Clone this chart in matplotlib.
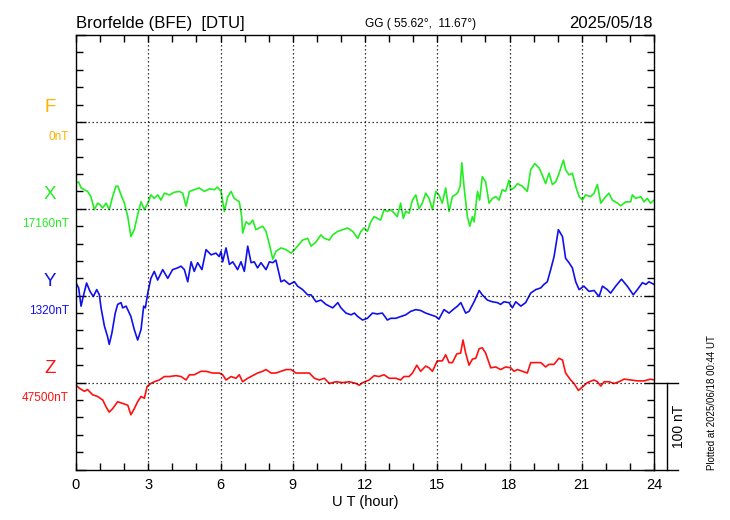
import numpy as np
import matplotlib.pyplot as plt

plt.rcParams['font.family'] = ['Liberation Sans', 'DejaVu Sans']

# components, baseline labels and colours (top to bottom)
components = ['F', 'X', 'Y', 'Z']
baselines = ['0nT', '17160nT', '1320nT', '47500nT']
colors = ['#FFB000', '#22EE22', '#1010EE', '#FF1010']
slots = [400, 300, 200, 100]

# deviation from baseline, nT
x_hours = [0.00, 0.11, 0.21, 0.35, 0.48, 0.62, 0.76, 0.90, 1.00, 1.11, 1.25, 1.38, 1.52, 1.66, 1.74,
           1.87, 2.01, 2.15, 2.28, 2.42, 2.56, 2.70, 2.84, 2.98, 3.11, 3.25, 3.39, 3.53, 3.67, 3.88,
           4.08, 4.29, 4.43, 4.57, 4.71, 4.91, 5.12, 5.33, 5.54, 5.74, 5.88, 6.02, 6.16, 6.30, 6.44,
           6.57, 6.78, 6.88, 6.92, 7.06, 7.20, 7.34, 7.47, 7.61, 7.75, 7.89, 8.03, 8.17, 8.30, 8.51,
           8.72, 8.93, 9.07, 9.20, 9.41, 9.62, 9.76, 9.97, 10.17, 10.31, 10.52, 10.66, 10.87, 11.07,
           11.28, 11.49, 11.70, 11.83, 11.96,
           12.10, 12.24, 12.38, 12.51, 12.65, 12.79, 12.93, 13.07, 13.21, 13.34, 13.48, 13.59, 13.69,
           13.83, 13.97, 14.11, 14.24, 14.38, 14.52, 14.66, 14.80, 14.94, 15.07, 15.21, 15.35, 15.49,
           15.63, 15.84, 15.95, 16.02, 16.11, 16.25, 16.35, 16.46, 16.53, 16.67, 16.76, 16.87, 17.01,
           17.15, 17.29, 17.43, 17.57, 17.70, 17.84, 17.98, 18.05, 18.19, 18.33, 18.53, 18.74, 18.88,
           19.05, 19.23, 19.36, 19.50, 19.64, 19.78, 19.92, 20.06, 20.24, 20.33, 20.47, 20.61, 20.75,
           20.89, 21.03, 21.16, 21.37, 21.51, 21.65, 21.79, 21.99, 22.13, 22.27, 22.48, 22.62, 22.83,
           23.03, 23.10, 23.24, 23.45, 23.59, 23.72, 23.86, 24.00]
x_dev = [29.5, 31, 24, 22, 20, 14, -1, 6.5, 4.6, 1, 6.5, -1, 14, 26, 26,
         16, 6.5, -9, -32, -24, -7, 8, -1, 6.5, 16, 12, 16, 10, 18, 16,
         19, 20, 18, 3, 20, 22, 24, 20, 23, 22, 25, 20, -3, 14, 20,
         12, 8, -9, -28, -15, -18, -13, -24, -22, -20, -26, -41, -58, -49, -45,
         -47, -51, -47, -43, -36, -34, -43, -38, -30, -34, -36, -30, -26, -24,
         -22, -26, -34, -26, -22,
         -26, -15, -9, -11, -13, -1, -3, -1, -5, -9, 6.5, -11, -3,
         -5, 10, 16, 0, 6.5, 18, 12, -1, 20, 16, 6.5, 24, -3,
         14, 18, 26, 53, 26, -9, -20, -9, -15, 20, 10, 37, 31,
         6.5, 12, 14, 10, 22, 20, 33, 22, 24, 29, 26, 20, 45,
         52, 47, 39, 29, 41, 28, 31, 41, 56, 45, 39, 41, 26,
         14, 10, 16, 14, 18, 28, 6.5, 14, 18, 10, 6.5, 3.5, 8,
         8, 16, 12, 14, 8, 12, 6.5, 10]

y_hours = [0.00, 0.11, 0.21, 0.30, 0.44, 0.58, 0.72, 0.86, 0.97, 1.04, 1.18, 1.31, 1.38, 1.49, 1.63,
           1.73, 1.87, 1.94, 2.08, 2.28, 2.42, 2.56, 2.70, 2.81, 2.88, 2.98, 3.11, 3.25, 3.39, 3.60,
           3.81, 4.01, 4.22, 4.36, 4.50, 4.64, 4.78, 4.91, 5.05, 5.23, 5.40, 5.61, 5.81, 5.95, 6.02,
           6.09, 6.23, 6.37, 6.51, 6.71, 6.85, 6.99, 7.13, 7.27, 7.40, 7.54, 7.68, 7.89, 8.03, 8.17,
           8.30, 8.51, 8.65, 8.86, 9.07, 9.20, 9.41, 9.62, 9.76, 9.97, 10.17, 10.38, 10.66, 10.87,
           11.00, 11.21, 11.42, 11.56, 11.70, 11.90,
           12.10, 12.31, 12.51, 12.72, 12.93, 13.07, 13.28, 13.48, 13.69, 13.90, 14.11, 14.31, 14.52,
           14.73, 14.94, 15.07, 15.28, 15.49, 15.70, 15.84, 15.98, 16.18, 16.32, 16.53, 16.74, 16.87,
           17.08, 17.29, 17.50, 17.63, 17.77, 17.98, 18.12, 18.26, 18.47, 18.67, 18.88, 19.09, 19.30,
           19.43, 19.57, 19.71, 19.85, 20.03, 20.20, 20.33, 20.47, 20.61, 20.75, 20.89, 21.09, 21.30,
           21.51, 21.72, 21.86, 22.06, 22.20, 22.41, 22.65, 22.89, 23.14, 23.31, 23.52, 23.66, 23.79,
           24.00]
y_dev = [14.6, 9, -12, -1, 14.6, 5, -1, 7, 1, -14, -35, -47, -56, -43, -20,
         -10, -8, -14, -12, -24, -39, -51, -39, -12, -14, 3, 20, 28, 18, 30,
         20, 30, 32, 34, 30, 16, 39, 28, 38, 30, 53, 47, 49, 45, 51,
         39, 55, 36, 39, 30, 39, 28, 57, 38, 39, 32, 38, 30, 39, 38,
         41, 16, 18, 13, 16, 11, 7, 1, 1, -7, -5, -10, -14, -8,
         -14, -20, -22, -20, -24, -28,
         -26, -20, -21, -20, -28, -26, -26, -24, -22, -18, -16, -17, -20,
         -22, -24, -27, -16, -20, -15, -12, -8, -20, -18, -7, 6, 1,
         -5, -7, -8, -10, -7, -8, -14, -7, -12, -8, 3, 7, 9,
         13, 16, 30, 45, 76, 68, 43, 38, 32, 16, 7, 11, 5,
         6, -1, 11, 7, 3, 11, 19, 11, 1, 7, 15, 13, 16,
         13]

z_hours = [0.00, 0.14, 0.35, 0.48, 0.69, 0.90, 1.11, 1.25, 1.38, 1.52, 1.73, 1.94, 2.15, 2.28, 2.42,
           2.56, 2.70, 2.84, 2.95, 3.11, 3.25, 3.46, 3.67, 3.88, 4.15, 4.36, 4.57, 4.71, 4.91, 5.19,
           5.40, 5.67, 5.95, 6.09, 6.23, 6.44, 6.64, 6.78, 6.92, 7.13, 7.34, 7.54, 7.75, 7.89, 8.10,
           8.30, 8.51, 8.72, 8.93, 9.13, 9.41, 9.69, 9.90, 10.10, 10.31, 10.52, 10.80, 11.07, 11.35,
           11.63, 11.76, 11.90,
           12.17, 12.38, 12.58, 12.79, 13.00, 13.28, 13.48, 13.62, 13.83, 13.97, 14.15, 14.31, 14.52,
           14.66, 14.80, 15.00, 15.21, 15.35, 15.49, 15.63, 15.81, 15.97, 16.07, 16.18, 16.32, 16.46,
           16.60, 16.74, 16.87, 17.01, 17.22, 17.43, 17.63, 17.84, 18.05, 18.19, 18.33, 18.53, 18.74,
           18.88, 19.09, 19.30, 19.50, 19.64, 19.85, 20.05, 20.20, 20.33, 20.54, 20.68, 20.86, 21.03,
           21.23, 21.51, 21.65, 21.79, 21.93, 22.13, 22.34, 22.55, 22.76, 23.03, 23.31, 23.59, 23.86,
           24.00]
z_dev = [-3, -6.5, -10, -8, -14, -16, -20, -28, -34, -30, -22, -24, -26, -37, -30,
         -22, -16, -18, -4.6, -1, 1, 3, 7, 7, 8, 7, 3, 9, 9, 13,
         13, 11, 11, 9, 3, 7, 5, 9, 1, 5, 8, 11, 13, 15, 11,
         11, 13, 15, 15, 11, 11, 11, 5, 3, 5, -1, 1, 0, 1,
         -1, -3, 0,
         3, 8, 7, 9, 5, 5, 3, 7, 7, 11, 20, 13, 19,
         17, 13, 25, 25, 32, 23, 23, 33, 34, 49, 34, 20, 27,
         28, 39, 40, 34, 17, 18, 15, 18, 17, 13, 15, 13, 11,
         23, 23, 23, 18, 21, 21, 28, 26, 11, 3, -1, -9, -5,
         0, 3, 1, -4, 1, 1, -1, 1, 4, 3, 2, 2, 4,
         3]

series = {'X': (x_hours, x_dev), 'Y': (y_hours, y_dev), 'Z': (z_hours, z_dev)}

fig = plt.figure(figsize=(7.3, 5.2), dpi=100)
ax = fig.add_axes([76 / 730, 1 - 469.5 / 520, 578 / 730, 434.5 / 520])

for comp, col, slot in zip(components, colors, slots):
    if comp in series:
        h, d = series[comp]
        ax.plot(h, np.array(d) + slot, color=col, lw=1.2)

ax.set_xlim(0, 24)
ax.set_ylim(0, 500)
ax.set_xticks(np.arange(0, 25, 3))
ax.set_xticks(np.arange(0, 25, 1), minor=True)
ax.set_yticks(np.arange(0, 501, 100))
ax.set_yticks(np.arange(0, 501, 20), minor=True)
ax.set_yticklabels([])
ax.tick_params(which='both', direction='in', top=True, right=True, labelsize=10.5, width=1)
ax.tick_params(which='major', length=7)
ax.tick_params(which='minor', length=5)
ax.tick_params(axis='x', which='major', length=5, pad=6)
for s in ax.spines.values():
    s.set_linewidth(1)

for v in range(3, 24, 3):
    ax.axvline(v, color='black', ls=(0, (1, 2.2)), lw=0.9)
for s in slots:
    ax.axhline(s, color='black', ls=(0, (1, 2.2)), lw=0.9)

ax.set_xlabel('U T (hour)', fontsize=10.5, labelpad=2)

# scale bar on the right
ax.plot([24, 25], [100, 100], color='black', lw=1, clip_on=False)
ax.plot([24, 25], [0, 0], color='black', lw=1, clip_on=False)
ax.plot([24.53, 24.53], [0, 100], color='black', lw=1, clip_on=False)
ax.text(25.05, 50, '100 nT', rotation=90, ha='center', va='center', fontsize=10)

# component names and baselines
for comp, base, col, slot in zip(components, baselines, colors, slots):
    ax.annotate(comp, xy=(0, slot), xycoords=('axes fraction', 'data'),
                xytext=(-26, 6), textcoords='offset pixels', ha='center', va='bottom',
                color=col, fontsize=13.5)
    ax.annotate(base, xy=(0, slot), xycoords=('axes fraction', 'data'),
                xytext=(-7, -9), textcoords='offset pixels', ha='right', va='top',
                color=col, fontsize=8.5)

fig.text(76 / 730, 1 - 28 / 520, 'Brorfelde (BFE)  [DTU]', fontsize=12, va='baseline')
fig.text(365 / 730, 1 - 27.5 / 520, 'GG ( 55.62\u00b0,  11.67\u00b0)', fontsize=8.6, va='baseline')
fig.text(653 / 730, 1 - 28 / 520, '2025/05/18', fontsize=12, va='baseline', ha='right')
fig.text(712 / 730, 1 - 403 / 520, 'Plotted at 2025/06/18 00:44 UT', rotation=90,
         ha='center', va='center', fontsize=7)

fig.savefig('out.png', dpi=100)
